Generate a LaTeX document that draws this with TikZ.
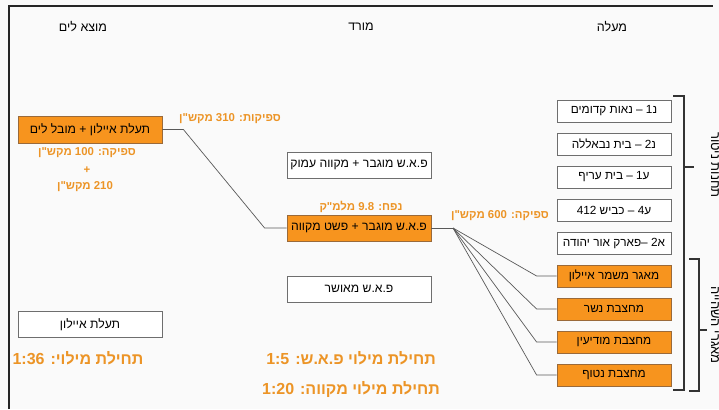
\documentclass[tikz,border=0pt]{standalone}
\usepackage{fontspec}
\setmainfont{Liberation Sans}
\newfontfamily\hebfont[Script=Hebrew]{Liberation Sans}
\TeXXeTstate=1
\definecolor{orng}{HTML}{F7941E}
\definecolor{orngtxt}{HTML}{EC9426}
\definecolor{orngline}{HTML}{9A6A3A}
\definecolor{boxline}{HTML}{6E6E6E}
\newcommand{\heb}[1]{{\hebfont\beginR #1\endR}}

\begin{document}
\begin{tikzpicture}[x=1pt,y=-1pt,
  whitebox/.style={draw=boxline,fill=white,line width=0.8pt,minimum height=26pt,inner sep=0pt,font=\fontsize{12.2}{14}\selectfont},
  orangebox/.style={whitebox,fill=orng,draw=orngline},
  smallbox/.style={minimum width=114pt,minimum height=22pt,font=\fontsize{11.8}{13}\selectfont},
  flow/.style={draw=black!65,line width=0.7pt},
  note/.style={text=orngtxt,font=\fontsize{11.4}{13}\selectfont\bfseries,inner sep=0pt},
  big/.style={text=orngtxt,font=\fontsize{16}{19}\selectfont\bfseries,inner sep=0pt},
  head/.style={font=\fontsize{12.5}{14}\selectfont,inner sep=0pt},
  brace/.style={draw=black!80,line width=1.1pt}]
\useasboundingbox (0,0) rectangle (719,409);
\clip (0,0) rectangle (719,409);
\fill[black!2] (0,0) rectangle (719,409);
\draw [line width=1.2pt,black!85] (9,409) -- (9,6) -- (713,6);

\node[head] (hsea) at (83,27) {\heb{מוצא לים}};
\node[head] (hdown) at (361,27) {\heb{מורד}};
\node[head] (hup) at (612,27) {\heb{מעלה}};

\node[orangebox,minimum width=144pt,minimum height=27pt] (sea) at (90,129.5) {\heb{תעלת איילון + מובל לים}};
\node[note] (seaq1) at (87,153) {\heb{ספיקה: 100 מקש"ן}};
\node[note] (seaplus) at (87,170) {+};
\node[note] (seaq2) at (85,187) {\heb{210 מקש"ן}};
\node[whitebox,minimum width=144pt] (ayl) at (90,324.5) {\heb{תעלת איילון}};
\node[big] (fill1) at (78,358) {\heb{תחילת מילוי: 1:36}};

\node[note] (q310) at (230,119) {\heb{ספיקות: 310 מקש"ן}};
\node[whitebox,minimum width=144pt] (deep) at (359,165) {\heb{פ.א.ש מוגבר + מקווה עמוק}};
\node[note] (vol) at (361,207) {\heb{נפח: 9.8 מלמ"ק}};
\node[orangebox,minimum width=144pt] (main) at (359,228) {\heb{פ.א.ש מוגבר + פשט מקווה}};
\node[whitebox,minimum width=144pt] (appr) at (359,289) {\heb{פ.א.ש מאושר}};
\node[big] (fill2) at (351,358) {\heb{תחילת מילוי פ.א.ש: 1:5}};
\node[big] (fill3) at (351,389) {\heb{תחילת מילוי מקווה: 1:20}};
\node[note] (q600) at (500,216) {\heb{ספיקה: 600 מקש"ן}};

\foreach \n/\s/\t [count=\i from 0] in {
  st1/whitebox/{נ1 – נאות קדומים},
  st2/whitebox/{נ2 – בית נבאללה},
  st3/whitebox/{ע1 – בית עריף},
  st4/whitebox/{ע4 – כביש 412},
  st5/whitebox/{א2 –פארק אור יהודה},
  mgr/orangebox/{מאגר משמר איילון},
  nsr/orangebox/{מחצבת נשר},
  mdn/orangebox/{מחצבת מודיעין},
  ntf/orangebox/{מחצבת נטוף}}
  \node[\s,smallbox] (\n) at (614,{111+33*\i}) {\heb{\t}};

\coordinate (fan) at (453,228);
\draw [flow] (sea.east) -- ([xshift=21pt]sea.east) -- ([xshift=-22pt]main.west) -- (main.west);
\draw [flow] (main.east) -- (fan);
\foreach \n in {mgr,nsr,mdn,ntf}
	\draw [flow] (fan) -- ([xshift=-20pt]\n.west) -- (\n.west);

\draw [brace] (673,96) -- (684,96) -- (684,390) -- (673,390);
\draw [brace] (684,167) -- (694,167);
\draw [brace] (689,259) -- (699,259) -- (699,391) -- (689,391);
\draw [brace] (699,330) -- (707,330);
\node[head,rotate=-90,anchor=base,font=\fontsize{13}{15}\selectfont] (grpup) at (711,165) {\heb{תחנות ניטור}};
\node[head,rotate=-90,anchor=base,font=\fontsize{13}{15}\selectfont] (grplow) at (711,325) {\heb{מאגרי השהייה}};
\end{tikzpicture}
\end{document}
